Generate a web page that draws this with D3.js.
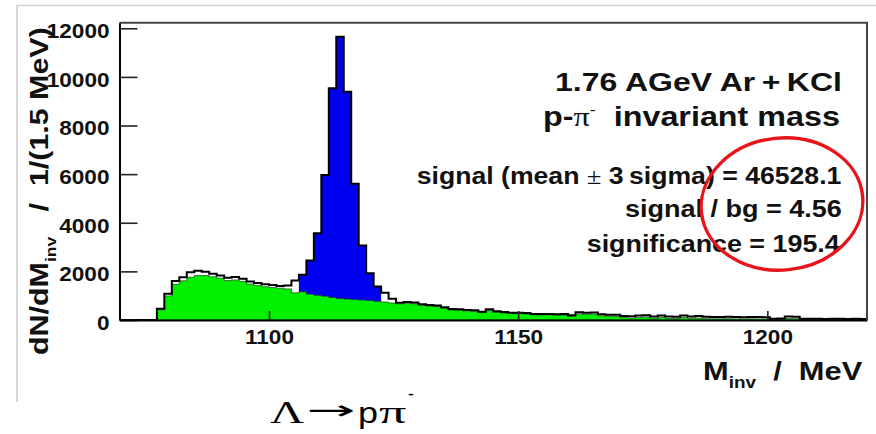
<!DOCTYPE html>
<html>
<head>
<meta charset="utf-8">
<script src="https://cdn.jsdelivr.net/npm/d3@7"></script>
<style>
  body { margin: 0; background: #fff; }
  svg { display: block; }
  text { font-family: "Liberation Sans", Arial, Helvetica, sans-serif; }
</style>
</head>
<body>
<div class="hist-container"></div>
<script>
// histogram binning: 100 bins of 1.5 MeV between 1070 and 1220 MeV
const xMin = 1070, xMax = 1220, binWidth = 1.5;

// total p-pi- pairs per bin (black outline)
const totalCounts = [
  0, 0, 0, 0, 0, 460, 1080, 1600, 1760, 1960,
  2030, 1990, 1900, 1830, 1740, 1770, 1700, 1580, 1520, 1470,
  1440, 1400, 1420, 1620, 1860, 2450, 3570, 5960, 9530, 11650,
  9390, 5600, 3060, 1920, 1380, 1120, 870, 710, 740, 720,
  645, 617, 600, 521, 452, 440, 411, 400, 343, 439,
  356, 330, 302, 302, 290, 247, 247, 250, 235, 245,
  192, 315, 300, 305, 233, 220, 220, 165, 150, 180,
  200, 140, 190, 140, 130, 180, 140, 165, 130, 120,
  125, 130, 120, 115, 125, 120, 115, 55, 65, 140,
  135, 55, 50, 55, 45, 50, 55, 45, 50, 45
];
// combinatorial background per bin (green)
const bgCounts = [
  0, 0, 0, 0, 0, 420, 990, 1470, 1610, 1760,
  1830, 1830, 1780, 1720, 1620, 1650, 1590, 1480, 1420, 1370,
  1340, 1310, 1280, 1120, 1160, 1060, 1020, 980, 930, 880,
  860, 840, 820, 800, 770, 740, 700, 660, 690, 670,
  600, 570, 560, 480, 410, 400, 380, 360, 310, 390,
  320, 290, 270, 265, 250, 215, 210, 215, 200, 205,
  150, 250, 235, 240, 170, 150, 150, 100, 85, 110,
  120, 70, 110, 70, 60, 100, 70, 80, 55, 50,
  50, 55, 45, 40, 50, 45, 40, 15, 20, 60,
  55, 15, 10, 20, 10, 15, 20, 10, 15, 10
];
// signal window (mean +- 3 sigma), filled blue
const signalWindow = [1106, 1122.5];

const xTicks = [1100, 1150, 1200];
const yTicks = [0, 2000, 4000, 6000, 8000, 10000, 12000];
const yMax = 12230;

const bins = totalCounts.map((v, i) => ({
  lo: xMin + i * binWidth,
  hi: xMin + (i + 1) * binWidth,
  total: v,
  bg: bgCounts[i]
}));

const svg_width = 876, svg_height = 434;
const plot = {left: 119.5, right: 867, top: 22.7, bottom: 320};

const svg = d3.select('.hist-container').append('svg')
  .attr('width', svg_width).attr('height', svg_height);

// light frame of the original slide picture
svg.append('path')
  .attr('d', `M17,402 V5.5 H876`)
  .attr('fill', 'none').attr('stroke', '#cfcfcf').attr('stroke-width', 1.6);

const x = d3.scaleLinear().domain([xMin, xMax]).range([plot.left, plot.right]);
const y = d3.scaleLinear().domain([0, yMax]).range([plot.bottom, plot.top]);

// step points of a histogram
function steps(data, acc) {
  return data.flatMap(b => [[b.lo, acc(b)], [b.hi, acc(b)]]);
}
const area = d3.area().x(d => x(d[0])).y0(y(0)).y1(d => y(d[1]));
const line = d3.line().x(d => x(d[0])).y(d => y(d[1]));

svg.append('clipPath').attr('id', 'plotclip')
  .append('rect')
  .attr('x', plot.left).attr('y', plot.top)
  .attr('width', plot.right - plot.left).attr('height', plot.bottom - plot.top);

const g = svg.append('g').attr('clip-path', 'url(#plotclip)');

const sigBins = bins.filter(b => b.lo >= signalWindow[0] - 1e-6 && b.hi <= signalWindow[1] + 1e-6);
g.append('path').attr('d', area(steps(sigBins, b => b.total)))
  .attr('fill', '#0000f0');

g.append('path').attr('d', area(steps(bins, b => b.bg)))
  .attr('fill', '#00f000')
  .attr('stroke', '#1a2a1a').attr('stroke-width', 0.9).attr('stroke-opacity', 0.7);

const outline = [[xMin, 0], ...steps(bins, b => b.total), [xMax, 0]];
g.append('path').attr('d', line(outline))
  .attr('fill', 'none').attr('stroke', '#000').attr('stroke-width', 2);

// frame (top/right)
svg.append('path')
  .attr('d', `M${plot.left},${plot.top} H${plot.right} V${plot.bottom}`)
  .attr('fill', 'none').attr('stroke', '#444').attr('stroke-width', 2);

// axes
const sx = 1.13;
const yAxis = d3.axisLeft(y).tickValues(yTicks).tickFormat(d3.format('d'))
  .tickSize(-18).tickSizeOuter(0).tickPadding(10);
const yAxisDraw = svg.append('g').attr('class', 'y axis')
  .attr('transform', `translate(${plot.left},0)`).call(yAxis);
yAxisDraw.select('.domain').attr('stroke', '#000').attr('stroke-width', 2);
yAxisDraw.selectAll('.tick line').attr('stroke', '#222').attr('stroke-width', 1.6);
yAxisDraw.selectAll('text')
  .attr('x', -10 / sx).attr('dy', '0.47em')
  .attr('transform', `scale(${sx},1)`)
  .style('font-size', '20px').style('font-weight', 'bold')
  .style('font-family', '"Liberation Sans", Arial, sans-serif').attr('fill', '#111');

const xAxis = d3.axisBottom(x).tickValues(xTicks).tickSize(-9).tickSizeOuter(0).tickFormat(d3.format('d'));
const xAxisDraw = svg.append('g').attr('class', 'x axis')
  .attr('transform', `translate(0,${plot.bottom})`).call(xAxis);
xAxisDraw.select('.domain').attr('stroke', '#000').attr('stroke-width', 2);
xAxisDraw.selectAll('.tick line').attr('stroke', '#222').attr('stroke-width', 1.6);
xAxisDraw.selectAll('text')
  .attr('y', 24).attr('dy', 0)
  .attr('transform', `scale(${sx},1)`)
  .style('font-size', '20px').style('font-weight', 'bold')
  .style('font-family', '"Liberation Sans", Arial, sans-serif').attr('fill', '#111');

// text stretched to the span it takes in the picture
const SANS = '"Liberation Sans", Arial, sans-serif';
const SERIF = '"Liberation Serif", "Times New Roman", serif';
function fitText(parts, o) {
  const grp = svg.append('g');
  const t = grp.append('text')
    .attr('font-size', o.size)
    .attr('font-weight', o.weight || 'bold')
    .attr('fill', o.fill || '#111');
  parts.forEach(p => {
    t.append('tspan').text(p.t)
      .attr('font-family', p.f || o.family || SANS)
      .attr('font-weight', p.w || null)
      .attr('font-size', p.s || null)
      .attr('dy', p.dy || null);
  });
  const bb = t.node().getBBox();
  const s = o.len / bb.width;
  if (o.rotate) {
    grp.attr('transform', `translate(${o.x},${o.y}) rotate(-90) scale(${s},1) translate(${-bb.x},0)`);
  } else {
    grp.attr('transform', `translate(${o.x},${o.y}) scale(${s},1) translate(${-bb.x},0)`);
  }
}

fitText([{t: '1.76 AGeV Ar\u2009+\u2009KCl'}], {x: 555, y: 90.7, len: 287, size: 26});
fitText([
  {t: 'p-'},
  {t: '\u03c0', f: SERIF, w: 'normal'},
  {t: '-', s: 15, dy: -11, w: 'normal'},
  {t: '\u00a0\u00a0invariant mass', dy: 11}
], {x: 543, y: 126, len: 297, size: 27});
fitText([
  {t: 'signal (mean '},
  {t: '\u00b1', f: SERIF, w: 'normal'},
  {t: ' 3\u2009sigma) = 46528.1'}
], {x: 416.7, y: 184, len: 425, size: 23});
fitText([{t: 'signal / bg = 4.56'}], {x: 625, y: 217.3, len: 217, size: 23});
fitText([{t: 'significance = 195.4'}], {x: 586.7, y: 252.3, len: 253.3, size: 23});

// axis titles
fitText([
  {t: 'M'},
  {t: 'inv', s: 16, dy: 8},
  {t: '\u00a0\u00a0/\u00a0\u00a0MeV', dy: -8}
], {x: 703, y: 380, len: 160, size: 26});
fitText([
  {t: 'dN/dM'},
  {t: 'inv', s: 15, dy: 8},
  {t: '\u00a0\u00a0\u00a0/\u00a0\u00a01/(1.5 MeV)', dy: -8}
], {x: 48, y: 355, len: 328, size: 26, rotate: true});

// reaction label below the plot, piece by piece
const plain = {weight: 'normal', fill: '#000'};
fitText([{t: '\u039b'}], {...plain, family: SERIF, x: 270, y: 423, len: 35, size: 31});
fitText([{t: '\u2192'}], {...plain, family: '"DejaVu Sans", sans-serif', x: 306, y: 419, len: 49, size: 26});
fitText([{t: 'p'}], {...plain, family: SANS, x: 358, y: 423, len: 20, size: 30});
fitText([{t: '\u03c0'}], {...plain, family: SERIF, x: 379, y: 423, len: 28, size: 31});
fitText([{t: '-'}], {...plain, family: SANS, x: 408, y: 400, len: 6, size: 18});

// red ellipse drawn on top of the numbers
svg.append('ellipse')
  .attr('cx', 782).attr('cy', 204).attr('rx', 81).attr('ry', 66)
  .attr('transform', 'rotate(-6,782,204)')
  .attr('fill', 'none').attr('stroke', '#e8141c').attr('stroke-width', 3.4);
</script>
</body>
</html>
